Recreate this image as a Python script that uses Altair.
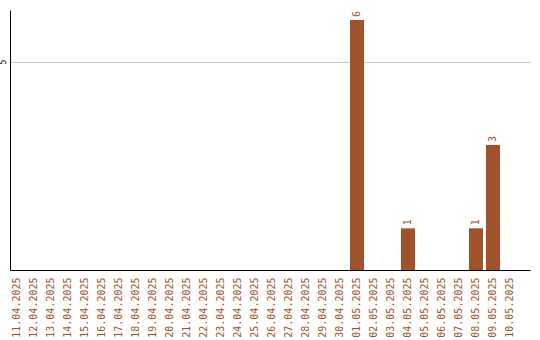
import altair as alt
import pandas as pd

# Daily counts, 11.04.2025 - 10.05.2025
dates = [
    "11.04.2025", "12.04.2025", "13.04.2025", "14.04.2025", "15.04.2025",
    "16.04.2025", "17.04.2025", "18.04.2025", "19.04.2025", "20.04.2025",
    "21.04.2025", "22.04.2025", "23.04.2025", "24.04.2025", "25.04.2025",
    "26.04.2025", "27.04.2025", "28.04.2025", "29.04.2025", "30.04.2025",
    "01.05.2025", "02.05.2025", "03.05.2025", "04.05.2025", "05.05.2025",
    "06.05.2025", "07.05.2025", "08.05.2025", "09.05.2025", "10.05.2025",
]
counts = [
    0, 0, 0, 0, 0, 0, 0, 0, 0, 0,
    0, 0, 0, 0, 0, 0, 0, 0, 0, 0,
    6, 0, 0, 1, 0, 0, 0, 1, 3, 0,
]

df = pd.DataFrame({"date": dates, "count": counts})
df["label"] = [str(c) if c > 0 else "" for c in counts]

BAR = "#a0522d"
FONT = "DejaVu Sans Mono"

x_enc = alt.X(
    "date:N",
    sort=dates,
    title=None,
    scale=alt.Scale(paddingInner=3 / 17, paddingOuter=0.3824, align=0),
    axis=alt.Axis(
        labelAngle=270,
        labelColor=BAR,
        labelFont=FONT,
        labelFontSize=10,
        labelPadding=7,
        ticks=False,
        domainColor="#000000",
        domainWidth=1,
        grid=False,
        labelOverlap=False,
    ),
)
y_enc = alt.Y(
    "count:Q",
    title=None,
    scale=alt.Scale(domain=[0, 6.24], nice=False, zero=True),
    axis=alt.Axis(
        values=[5],
        labelAngle=270,
        labelFont=FONT,
        labelFontSize=8,
        labelColor="#000000",
        labelPadding=3,
        ticks=False,
        domainColor="#000000",
        domainWidth=1,
        grid=True,
        gridColor="#c8c8c8",
        gridWidth=1,
    ),
)

bars = alt.Chart(df).mark_bar(color=BAR).encode(x=x_enc, y=y_enc)

labels = alt.Chart(df).mark_text(
    angle=270, align="left", baseline="middle", dx=3,
    color=BAR, font=FONT, fontSize=10,
).encode(x=alt.X("date:N", sort=dates), y="count:Q", text="label:N")

chart = (
    alt.layer(bars, labels)
    .properties(
        width=520,
        height=260,
        padding={"left": 10, "top": 10, "right": 10, "bottom": 70},
        autosize=alt.AutoSizeParams(type="none"),
        background="white",
    )
    .configure_view(stroke=None)
)

chart.save("out.html", embed_options={"renderer": "svg", "actions": False})
